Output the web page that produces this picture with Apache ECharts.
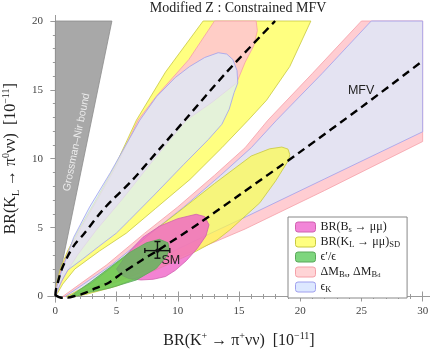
<!DOCTYPE html>
<html><head><meta charset="utf-8">
<script src="https://cdn.jsdelivr.net/npm/echarts@6/dist/echarts.min.js"></script>
<style>html,body{margin:0;padding:0;background:#fff}#c{width:430px;height:351px}</style>
</head><body><div id="c"></div>
<script>
// ---- tick values ----
var X_TICKS = [0, 5, 10, 15, 20, 25, 30];
var X_MINOR = [1,2,3,4,6,7,8,9,11,12,13,14,16,17,18,19,21,22,23,24,26,27,28,29];
var Y_TICKS = [0, 5, 10, 15, 20];
var Y_MINOR = [1,2,3,4,6,7,8,9,11,12,13,14,16,17,18,19];

// ---- regions (BR(K+), BR(KL)) in 1e-11 ----
var GN_BOUND = [[0,0],[4.62,20],[0,20]];
var DM_RIGHT = [[0.6,0],[2,0.9],[4.2,2.3],[7.3,4.6],[10,6.5],[13,8.8],[15.5,10.8],[17.36,12.8],[21,16.2],[25.0,20],[30,20],[30,11.25],[22,7.7],[15.5,4.9],[11.8,3.5],[8,2.1],[5,1.05],[2.5,0.35],[1.0,0]];
var EK_RIGHT = [[0.8,0],[2.3,0.9],[4.6,2.3],[7.8,4.6],[10.5,6.5],[13.5,8.8],[16,10.8],[18.07,12.8],[21.8,16.2],[25.8,20],[30,20],[30,11.96],[22,8.54],[15.6,5.8],[12,4.3],[8.5,2.8],[5.5,1.55],[3,0.65],[1.2,0.05]];
var KL_LEFT = [[0.03,0.15],[0.1,0.9],[0.4,2.0],[1.0,3.3],[2.0,5.0],[3.5,7.3],[5.0,9.7],[6.62,12.8],[9.0,16.3],[12.07,20],[20.87,20],[19.15,16.7],[17.25,14.25],[15.75,12.8],[13.6,10.8],[11.0,8.5],[8.2,6.4],[5.8,4.6],[3.6,3.3],[1.6,2.0],[0.6,0.9],[0.15,0.2]];
var DM_LEFT = [[0.05,0.2],[0.15,0.9],[0.5,2.0],[1.1,3.3],[2.1,5.0],[3.6,7.3],[5.1,9.7],[6.75,12.8],[8.3,14.6],[10.9,17.2],[13.0,20],[16.4,20],[16.5,19.3],[16.2,18.2],[15.5,17.0],[14.8,15.5],[12.8,14.1],[10.7,12.8],[8.0,9.9],[5.5,7.1],[3.35,4.83],[1.8,3.0],[0.8,1.6],[0.3,0.7],[0.1,0.25]];
var EK_LEFT = [[0.03,0.1],[0.1,0.6],[0.3,1.3],[0.7,2.3],[1.5,4.3],[2.8,6.5],[4.5,9.0],[6.9,12.8],[8.26,14.5],[9.8,15.9],[10.98,16.7],[12.2,17.35],[13.3,17.7],[14.0,17.6],[14.5,17.2],[14.84,16.4],[14.9,15.5],[14.6,14.8],[14.2,13.6],[13.6,12.5],[12.5,11.4],[10.5,9.6],[8,7.3],[6,5.5],[4.98,4.6],[3.5,3.6],[2.2,2.7],[1.03,1.93],[0.5,1.1],[0.15,0.35]];
var KL_RIGHT = [[0.9,-0.02],[3,1.0],[5.5,2.75],[7.6,4.46],[10,6.1],[13,8.2],[16,10.2],[17.5,10.72],[18.5,10.85],[19.0,10.7],[19.15,10.3],[19.05,9.9],[18,8.4],[16.7,6.8],[14.25,4.83],[13.2,4.1],[11,3.05],[8,1.85],[5,0.75],[2.5,0.15],[1.2,-0.03]];
var BS_RIGHT = [[5.0,2.0],[5.8,3.0],[6.5,3.7],[7.16,4.3],[8.5,5.1],[10,5.65],[11.5,5.97],[12.2,5.8],[12.55,5.2],[12.3,4.4],[11.6,3.5],[10.7,2.6],[9.8,1.9],[9.0,1.45],[8.0,1.25],[7,1.2],[6,1.3],[5.3,1.6]];
var EPS_RIGHT = [[1.2,0],[2.8,1.0],[4.44,2.1],[6.07,3.2],[7.44,3.9],[8.5,4.15],[9.2,3.9],[9.3,3.4],[9.07,2.9],[8.26,2.05],[6.62,1.2],[4.44,0.61],[2.8,0.3],[1.8,0.05]];

// ---- dashed correlation curves ----
var CURVE_LEFT = [[0.0,0.05],[0.05,0.5],[0.2,1.0],[0.5,1.93],[1.0,2.9],[1.6,3.8],[2.26,4.47],[4.0,6.4],[6.34,8.5],[8.5,10.7],[10.57,12.8],[14,16.3],[17.95,20]];
var CURVE_MFV = [[0,0.1],[0.3,-0.04],[0.62,-0.1],[1.0,-0.08],[1.44,0],[2.26,0.2],[3.3,0.6],[4.36,1.0],[5.53,1.75],[7,2.6],[8.34,3.33],[11.8,5.35],[15,7.35],[20,10.5],[25,13.75],[30,17.1]];

// ---- SM point ----
var SM_POINT = [8.34, 3.33];
var SM_X_ERR = [7.31, 9.35];
var SM_Y_ERR = [2.78, 3.99];

// ---- text anchors ----
var GN_LABEL_POS = [1.74, 11.2];
var MFV_LABEL_POS = [24.97, 14.96];

var SERIF = '"Liberation Serif", "DejaVu Serif", serif';
var SANS = '"Liberation Sans", Arial, sans-serif';
var FRAME = '#9a9a9a';

var COL = {
  gn:  {fill:'#a8a8a8', stroke:'#8c8c8c'},
  bs:  {fill:'rgba(240,100,200,0.8)', stroke:'#d060b0', legend:'#f285d8'},
  kl:  {fill:'rgba(255,255,60,0.65)', stroke:'#c8c840', legend:'#ffff80'},
  eps: {fill:'rgba(80,190,80,0.75)', stroke:'#5aa85a', legend:'#7ed67e'},
  dm:  {fill:'rgba(255,200,205,0.9)', stroke:'#f5a0a8', legend:'#ffd4d6'},
  ek:  {fill:'rgba(216,237,255,0.7)', stroke:'#a0a0ee', legend:'#dde8ff'}
};

function poly(name, pts, c) {
  return {
    type:'custom', name:name, silent:true, animation:false, clip:false,
    itemStyle:{color:c.legend || c.fill, borderColor:c.stroke},
    data:[[pts[0][0], pts[0][1]]],
    renderItem:function(params, api){
      return {type:'polygon', shape:{points:pts.map(function(p){return api.coord(p);})},
              style:{fill:c.fill, stroke:c.stroke, lineWidth:0.8}};
    }
  };
}

function xAx(pos, vals, len, showLabel, showLine) {
  return {
    type:'value', min:-0.6, max:30.6, position:pos,
    axisLine:{show:showLine, lineStyle:{color:FRAME, width:1}},
    axisTick:{show:true, inside:true, length:len, customValues:vals, lineStyle:{color:FRAME, width:1}},
    axisLabel:{show:showLabel, customValues:vals, margin:4, fontFamily:SERIF, fontSize:11, color:'#444'},
    splitLine:{show:false}
  };
}
function yAx(pos, vals, len, showLabel, showLine) {
  return {
    type:'value', min:-0.4, max:20.4, position:pos,
    axisLine:{show:showLine, lineStyle:{color:FRAME, width:1}},
    axisTick:{show:true, inside:true, length:len, customValues:vals, lineStyle:{color:FRAME, width:1}},
    axisLabel:{show:showLabel, customValues:vals, margin:5, fontFamily:SERIF, fontSize:11, color:'#444'},
    splitLine:{show:false}
  };
}

var xAxes = [xAx('bottom', X_TICKS, 5, true, true), xAx('bottom', X_MINOR, 2.5, false, false),
             xAx('top', X_TICKS, 5, false, true), xAx('top', X_MINOR, 2.5, false, false)];
xAxes[0].name = 'BR(K{sup|+} → π{sup|+}νν)  [10{sup|−11}]';
xAxes[0].nameLocation = 'middle';
xAxes[0].nameGap = 29;
xAxes[0].nameTextStyle = {fontFamily:SERIF, fontSize:16, color:'#222', lineHeight:20,
  rich:{sup:{fontFamily:SERIF, fontSize:10, verticalAlign:'top', lineHeight:12, color:'#222'}}};

var yAxes = [yAx('left', Y_TICKS, 5, true, true), yAx('left', Y_MINOR, 2.5, false, false),
             yAx('right', Y_TICKS, 5, false, true), yAx('right', Y_MINOR, 2.5, false, false)];
yAxes[0].name = 'BR(K{sub|L} → π{sup|0}νν)  [10{sup|−11}]';
yAxes[0].nameLocation = 'middle';
yAxes[0].nameGap = 25;
yAxes[0].nameTextStyle = {fontFamily:SERIF, fontSize:16, color:'#222', lineHeight:20,
  rich:{sup:{fontFamily:SERIF, fontSize:10, verticalAlign:'top', lineHeight:12, color:'#222'},
        sub:{fontFamily:SERIF, fontSize:10, verticalAlign:'bottom', lineHeight:10, color:'#222'}}};

var LEGEND_TEXT = {
  bs:'BR(B{s|s} → μμ)',
  kl:'BR(K{s|L} → μμ){s|SD}',
  eps:'ϵ′/ϵ',
  dm:'ΔM{s|B}{ss|s}, ΔM{s|B}{ss|d}',
  ek:'ϵ{s|K}'
};

function textSeries(pos, text, font, fill, rot, align) {
  return {
    type:'custom', silent:true, animation:false, clip:false,
    data:[[pos[0], pos[1]]],
    renderItem:function(params, api){
      var p = api.coord(pos);
      return {type:'text', x:p[0], y:p[1], rotation:rot,
              style:{text:text, font:font, fill:fill, align:align || 'center', verticalAlign:'middle'}};
    }
  };
}

var series = [
  poly('gn', GN_BOUND, COL.gn),
  poly('dm', DM_RIGHT, COL.dm),
  poly('ek', EK_RIGHT, COL.ek),
  poly('kl', KL_LEFT, COL.kl),
  poly('dm', DM_LEFT, COL.dm),
  poly('ek', EK_LEFT, COL.ek),
  poly('kl', KL_RIGHT, COL.kl),
  poly('bs', BS_RIGHT, COL.bs),
  poly('eps', EPS_RIGHT, COL.eps),
  {type:'line', data:CURVE_LEFT, showSymbol:false, smooth:0.3, silent:true, animation:false,
   lineStyle:{color:'#000', width:2.4, type:[8,5]}},
  {type:'line', data:CURVE_MFV, showSymbol:false, smooth:0.3, silent:true, animation:false,
   lineStyle:{color:'#000', width:2.4, type:[8,5]}},
  {
    type:'custom', silent:true, animation:false, clip:false,
    data:[SM_POINT],
    renderItem:function(params, api){
      var c = api.coord(SM_POINT);
      var xl = api.coord([SM_X_ERR[0], SM_POINT[1]]), xr = api.coord([SM_X_ERR[1], SM_POINT[1]]);
      var yb = api.coord([SM_POINT[0], SM_Y_ERR[0]]), yt = api.coord([SM_POINT[0], SM_Y_ERR[1]]);
      var st = {stroke:'#111', lineWidth:1.4};
      return {type:'group', children:[
        {type:'line', shape:{x1:xl[0], y1:xl[1], x2:xr[0], y2:xr[1]}, style:st},
        {type:'line', shape:{x1:xl[0], y1:xl[1]-2.5, x2:xl[0], y2:xl[1]+2.5}, style:st},
        {type:'line', shape:{x1:xr[0], y1:xr[1]-2.5, x2:xr[0], y2:xr[1]+2.5}, style:st},
        {type:'line', shape:{x1:yb[0], y1:yb[1], x2:yt[0], y2:yt[1]}, style:st},
        {type:'line', shape:{x1:yb[0]-3, y1:yb[1], x2:yb[0]+3, y2:yb[1]}, style:st},
        {type:'line', shape:{x1:yt[0]-3, y1:yt[1], x2:yt[0]+3, y2:yt[1]}, style:st},
        {type:'circle', shape:{cx:c[0], cy:c[1], r:2.2}, style:{fill:'#111'}},
        {type:'text', x:c[0]+4, y:c[1]+3, style:{text:'SM', font:'12.5px ' + SANS, fill:'#222', align:'left', verticalAlign:'top'}}
      ]};
    }
  },
  textSeries(GN_LABEL_POS, 'Grossman–Nir bound', '10.5px ' + SANS, '#ececec', 78.4 * Math.PI / 180),
  textSeries(MFV_LABEL_POS, 'MFV', '12.5px ' + SANS, '#222', 0)
];

var option = {
  animation:false,
  backgroundColor:'#fff',
  grid:{left:48, right:0, top:15.5, bottom:49, containLabel:false, outerBoundsMode:'none'},
  xAxis:xAxes,
  yAxis:yAxes,
  graphic:[{type:'text', x:238, y:8, style:{text:'Modified Z : Constrained MFV', font:'14px ' + SERIF, fill:'#222', align:'center', verticalAlign:'middle'}}],
  legend:{
    orient:'vertical', left:288, top:217, padding:[3,7,4,7], itemGap:1,
    itemWidth:20, itemHeight:10, borderColor:'#888', borderWidth:1, backgroundColor:'#fff',
    selectedMode:false,
    data:[
      {name:'bs', icon:'roundRect', itemStyle:{color:COL.bs.legend, borderColor:COL.bs.stroke, borderWidth:1}},
      {name:'kl', icon:'roundRect', itemStyle:{color:COL.kl.legend, borderColor:COL.kl.stroke, borderWidth:1}},
      {name:'eps', icon:'roundRect', itemStyle:{color:COL.eps.legend, borderColor:COL.eps.stroke, borderWidth:1}},
      {name:'dm', icon:'roundRect', itemStyle:{color:COL.dm.legend, borderColor:COL.dm.stroke, borderWidth:1}},
      {name:'ek', icon:'roundRect', itemStyle:{color:COL.ek.legend, borderColor:COL.ek.stroke, borderWidth:1}}
    ],
    formatter:function(n){ return LEGEND_TEXT[n]; },
    textStyle:{fontFamily:SERIF, fontSize:12, color:'#222', lineHeight:14,
      rich:{s:{fontFamily:SERIF, fontSize:8.5, verticalAlign:'bottom', lineHeight:9, color:'#222'},
            ss:{fontFamily:SERIF, fontSize:6.5, verticalAlign:'bottom', lineHeight:6, color:'#222'}}}
  },
  series:series
};

var chart = echarts.init(document.getElementById('c'), null, {renderer:'canvas'});
chart.setOption(option);
</script></body></html>
